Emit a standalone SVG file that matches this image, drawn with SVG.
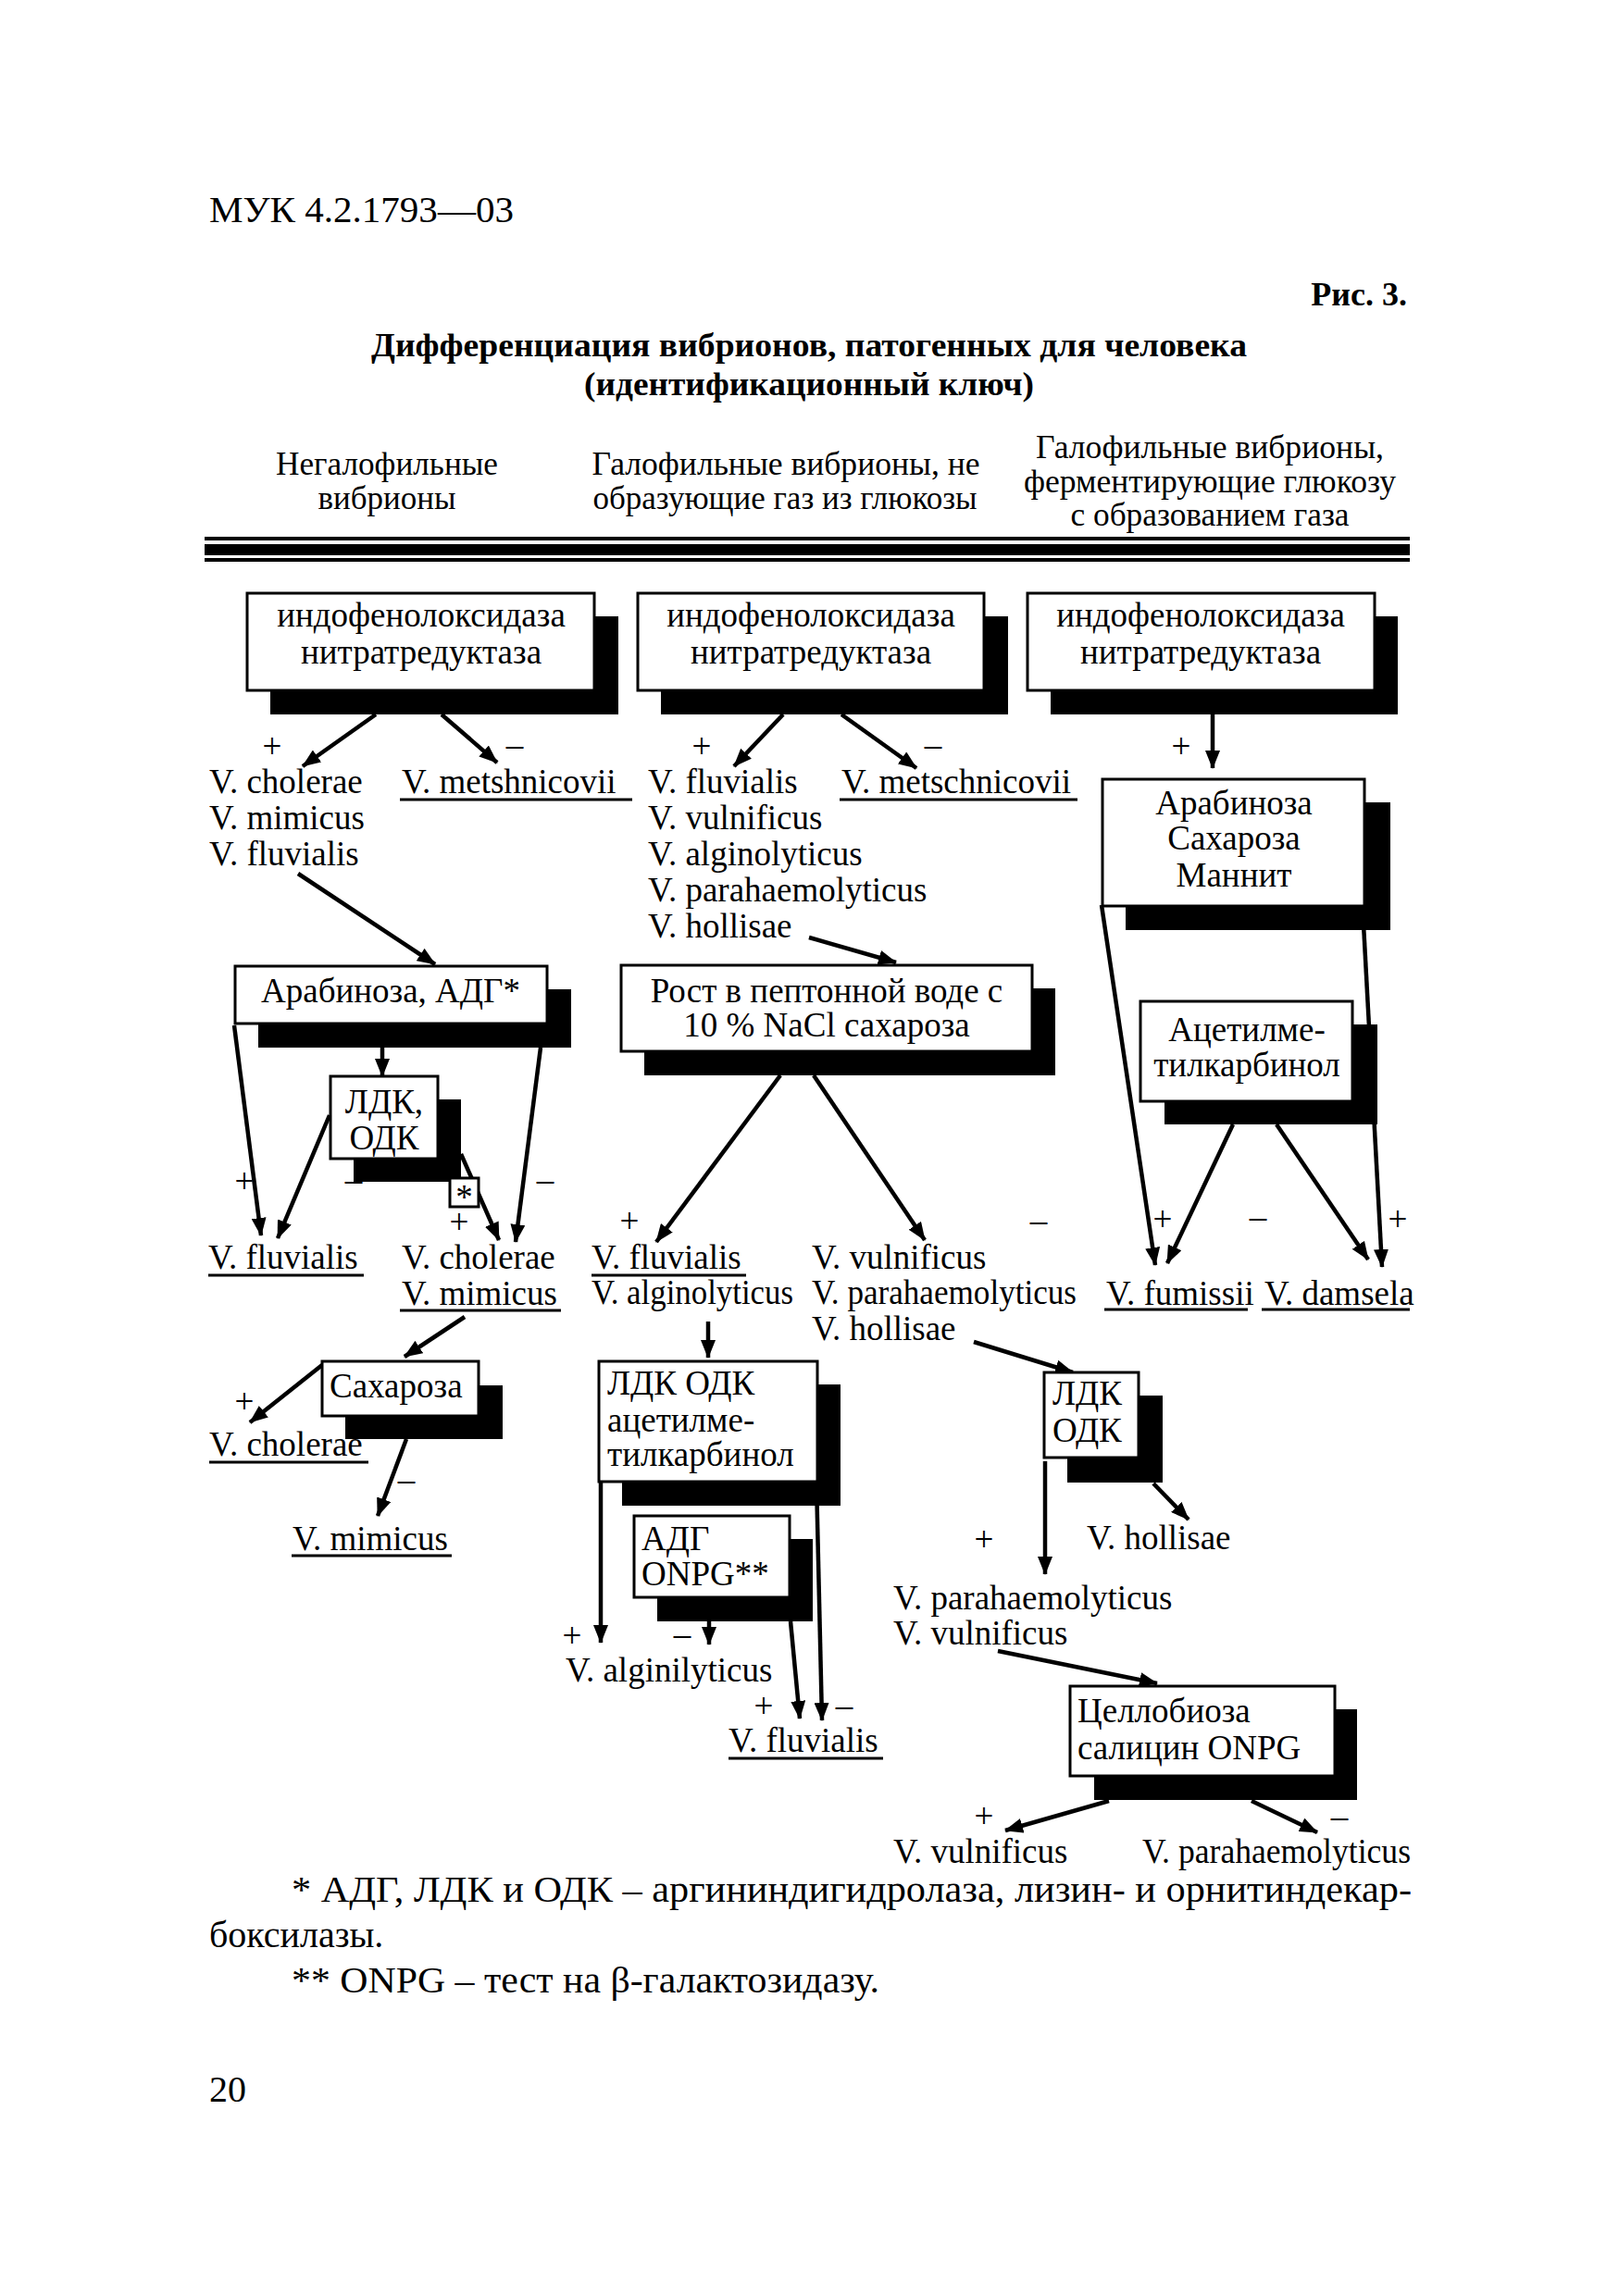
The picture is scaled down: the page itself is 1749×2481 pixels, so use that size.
<svg xmlns="http://www.w3.org/2000/svg" width="1749" height="2481" viewBox="0 0 1749 2481">
<style>
text{font-family:"Liberation Serif","Times New Roman",serif;font-size:37px;fill:#000}
.h{font-size:35px;text-anchor:middle}
.b{font-weight:bold;font-size:36px}
.c{text-anchor:middle}
.fn{font-size:40px}
.box{fill:#fff;stroke:#000;stroke-width:3}
.sh{fill:#000}
.ln{stroke:#000;stroke-width:4.5;fill:none}
.ar{stroke:#000;stroke-width:4.5;fill:none;marker-end:url(#ah)}
.ul{stroke:#000;stroke-width:3}
</style>
<defs>
<marker id="ah" viewBox="0 0 20 16" refX="19" refY="8" markerWidth="20" markerHeight="16" markerUnits="userSpaceOnUse" orient="auto"><path d="M0,0 L20,8 L0,16 z" fill="#000"/></marker>
</defs>
<rect width="1749" height="2481" fill="#fff"/>

<g id="header">
<text x="226" y="240" style="font-size:40px" textLength="329" lengthAdjust="spacingAndGlyphs">МУК 4.2.1793—03</text>
<text x="1520" y="330" class="b" text-anchor="end">Рис. 3.</text>
<text x="874" y="385" class="b" text-anchor="middle" textLength="946" lengthAdjust="spacingAndGlyphs">Дифференциация вибрионов, патогенных для человека</text>
<text x="874" y="427" class="b" text-anchor="middle" textLength="486" lengthAdjust="spacingAndGlyphs">(идентификационный ключ)</text>
<text x="418" y="513" class="h" textLength="240" lengthAdjust="spacingAndGlyphs">Негалофильные</text>
<text x="418" y="550" class="h" textLength="149" lengthAdjust="spacingAndGlyphs">вибрионы</text>
<text x="849" y="513" class="h" textLength="419" lengthAdjust="spacingAndGlyphs">Галофильные вибрионы, не</text>
<text x="848" y="550" class="h" textLength="415" lengthAdjust="spacingAndGlyphs">образующие газ из глюкозы</text>
<text x="1307" y="495" class="h" textLength="376" lengthAdjust="spacingAndGlyphs">Галофильные вибрионы,</text>
<text x="1307" y="532" class="h" textLength="402" lengthAdjust="spacingAndGlyphs">ферментирующие глюкозу</text>
<text x="1307" y="568" class="h" textLength="301" lengthAdjust="spacingAndGlyphs">с образованием газа</text>
<rect x="221" y="580" width="1302" height="4" fill="#000"/>
<rect x="221" y="588" width="1302" height="12" fill="#000"/>
<rect x="221" y="603" width="1302" height="4" fill="#000"/>
</g>

<g id="connectors">
<line class="ar" x1="406" y1="772" x2="327" y2="828"/>
<line class="ar" x1="477" y1="772" x2="537" y2="824"/>
<line class="ar" x1="846" y1="772" x2="793" y2="828"/>
<line class="ar" x1="909" y1="772" x2="990" y2="830"/>
<line class="ar" x1="1310" y1="772" x2="1310" y2="830"/>
<line class="ar" x1="322" y1="944" x2="470" y2="1042"/>
<line class="ar" x1="413" y1="1132" x2="413" y2="1163"/>
<line class="ar" x1="253" y1="1108" x2="282" y2="1335"/>
<line class="ar" x1="356" y1="1205" x2="300" y2="1338"/>
<line class="ar" x1="584" y1="1132" x2="557" y2="1342"/>
<line class="ar" x1="498" y1="1247" x2="539" y2="1340"/>
<line class="ar" x1="874" y1="1013" x2="968" y2="1040"/>
<line class="ar" x1="843" y1="1162" x2="709" y2="1342"/>
<line class="ar" x1="879" y1="1162" x2="999" y2="1340"/>
<line class="ar" x1="1190" y1="978" x2="1248" y2="1367"/>
<line class="ar" x1="1472" y1="980" x2="1493" y2="1369"/>
<line class="ar" x1="1332" y1="1215" x2="1261" y2="1365"/>
<line class="ar" x1="1379" y1="1215" x2="1478" y2="1361"/>
<line class="ar" x1="502" y1="1423" x2="437" y2="1466"/>
<line class="ar" x1="348" y1="1475" x2="270" y2="1537"/>
<line class="ar" x1="439" y1="1555" x2="408" y2="1638"/>
<line class="ar" x1="765" y1="1428" x2="765" y2="1467"/>
<line class="ar" x1="649" y1="1590" x2="649" y2="1775"/>
<line class="ar" x1="766" y1="1752" x2="766" y2="1777"/>
<line class="ar" x1="854" y1="1752" x2="864" y2="1857"/>
<line class="ar" x1="882" y1="1600" x2="888" y2="1859"/>
<line class="ar" x1="1052" y1="1450" x2="1159" y2="1483"/>
<line class="ar" x1="1129" y1="1579" x2="1129" y2="1701"/>
<line class="ar" x1="1246" y1="1603" x2="1284" y2="1642"/>
<line class="ar" x1="1078" y1="1784" x2="1250" y2="1819"/>
<line class="ar" x1="1198" y1="1946" x2="1086" y2="1978"/>
<line class="ar" x1="1352" y1="1946" x2="1423" y2="1980"/>
</g>

<g id="n-indo1">
<rect class="sh" x="292" y="666" width="376" height="106"/>
<rect class="box" x="267" y="641" width="375" height="105"/>
<text x="455" y="677" class="c">индофенолоксидаза</text>
<text x="455" y="717" class="c">нитратредуктаза</text>
</g>
<g id="n-indo2">
<rect class="sh" x="714" y="666" width="375" height="106"/>
<rect class="box" x="689" y="641" width="374" height="105"/>
<text x="876" y="677" class="c">индофенолоксидаза</text>
<text x="876" y="717" class="c">нитратредуктаза</text>
</g>
<g id="n-indo3">
<rect class="sh" x="1135" y="666" width="375" height="106"/>
<rect class="box" x="1110" y="641" width="375" height="105"/>
<text x="1297" y="677" class="c">индофенолоксидаза</text>
<text x="1297" y="717" class="c">нитратредуктаза</text>
</g>

<g id="n-arab-sach-mann">
<rect class="sh" x="1216" y="867" width="286" height="138"/>
<rect class="box" x="1191" y="842" width="283" height="137"/>
<text x="1333" y="880" class="c">Арабиноза</text>
<text x="1333" y="918" class="c">Сахароза</text>
<text x="1333" y="958" class="c">Маннит</text>
</g>

<g id="n-arab-adg">
<rect class="sh" x="279" y="1069" width="338" height="63"/>
<rect class="box" x="254" y="1044" width="337" height="62"/>
<text x="422" y="1083" class="c">Арабиноза, АДГ*</text>
</g>

<g id="n-ldk-odk1">
<rect class="sh" x="382" y="1188" width="116" height="89"/>
<rect class="box" x="357" y="1163" width="116" height="89"/>
<text x="415" y="1203" class="c">ЛДК,</text>
<text x="415" y="1242" class="c">ОДК</text>
</g>

<g id="n-star">
<rect class="box" x="486" y="1273" width="31" height="31"/>
<text x="501.5" y="1306" class="c">*</text>
</g>

<g id="n-rost">
<rect class="sh" x="696" y="1068" width="444" height="94"/>
<rect class="box" x="671" y="1043" width="444" height="93"/>
<text x="893" y="1083" class="c">Рост в пептонной воде с</text>
<text x="893" y="1120" class="c">10 % NaCl сахароза</text>
</g>

<g id="n-acetyl">
<rect class="sh" x="1258" y="1107" width="230" height="108"/>
<rect class="box" x="1232" y="1082" width="229" height="108"/>
<text x="1347" y="1125" class="c">Ацетилме-</text>
<text x="1347" y="1163" class="c">тилкарбинол</text>
</g>

<g id="n-sach">
<rect class="sh" x="373" y="1497" width="170" height="58"/>
<rect class="box" x="348" y="1471" width="169" height="59"/>
<text x="356" y="1510">Сахароза</text>
</g>

<g id="n-ldk-odk-acet">
<rect class="sh" x="672" y="1496" width="236" height="131"/>
<rect class="box" x="647" y="1471" width="236" height="130"/>
<text x="656" y="1507">ЛДК ОДК</text>
<text x="656" y="1547">ацетилме-</text>
<text x="656" y="1584">тилкарбинол</text>
</g>

<g id="n-adg-onpg">
<rect class="sh" x="710" y="1663" width="168" height="89"/>
<rect class="box" x="685" y="1638" width="168" height="88"/>
<text x="693" y="1675">АДГ</text>
<text x="693" y="1713">ONPG**</text>
</g>

<g id="n-ldk-odk2">
<rect class="sh" x="1153" y="1508" width="103" height="94"/>
<rect class="box" x="1128" y="1483" width="102" height="92"/>
<text x="1137" y="1518">ЛДК</text>
<text x="1137" y="1558">ОДК</text>
</g>

<g id="n-cello">
<rect class="sh" x="1182" y="1847" width="284" height="98"/>
<rect class="box" x="1156" y="1822" width="286" height="97"/>
<text x="1164" y="1861">Целлобиоза</text>
<text x="1164" y="1901">салицин ONPG</text>
</g>

<g id="labels">
<text x="226" y="857">V. cholerae</text>
<text x="226" y="896">V. mimicus</text>
<text x="226" y="935">V. fluvialis</text>
<text x="434" y="857">V. metshnicovii</text>
<line class="ul" x1="432" y1="864" x2="683" y2="864"/>
<text x="700" y="857">V. fluvialis</text>
<text x="700" y="896">V. vulnificus</text>
<text x="700" y="935">V. alginolyticus</text>
<text x="700" y="974">V. parahaemolyticus</text>
<text x="700" y="1013">V. hollisae</text>
<text x="909" y="857">V. metschnicovii</text>
<line class="ul" x1="907" y1="864" x2="1164" y2="864"/>

<text x="225" y="1371">V. fluvialis</text>
<line class="ul" x1="225" y1="1378" x2="393" y2="1378"/>
<text x="434" y="1371">V. cholerae</text>
<text x="434" y="1410">V. mimicus</text>
<line class="ul" x1="432" y1="1416" x2="606" y2="1416"/>
<text x="639" y="1371">V. fluvialis</text>
<line class="ul" x1="639" y1="1378" x2="806" y2="1378"/>
<text x="639" y="1409" textLength="218" lengthAdjust="spacingAndGlyphs">V. alginolyticus</text>
<text x="877" y="1371">V. vulnificus</text>
<text x="877" y="1409" textLength="286" lengthAdjust="spacingAndGlyphs">V. parahaemolyticus</text>
<text x="877" y="1448">V. hollisae</text>
<text x="1195" y="1410">V. fumissii</text>
<line class="ul" x1="1193" y1="1415" x2="1348" y2="1415"/>
<text x="1366" y="1410">V. damsela</text>
<line class="ul" x1="1363" y1="1415" x2="1523" y2="1415"/>

<text x="226" y="1573">V. cholerae</text>
<line class="ul" x1="226" y1="1580" x2="398" y2="1580"/>
<text x="316" y="1675">V. mimicus</text>
<line class="ul" x1="315" y1="1681" x2="488" y2="1681"/>

<text x="611" y="1817">V. alginilyticus</text>
<text x="787" y="1893">V. fluvialis</text>
<line class="ul" x1="787" y1="1900" x2="954" y2="1900"/>

<text x="1174" y="1674">V. hollisae</text>
<text x="965" y="1739">V. parahaemolyticus</text>
<text x="965" y="1777">V. vulnificus</text>
<text x="965" y="2013">V. vulnificus</text>
<text x="1234" y="2013" textLength="290" lengthAdjust="spacingAndGlyphs">V. parahaemolyticus</text>
</g>

<g id="signs">
<text x="294" y="819" class="c">+</text>
<text x="556" y="817" class="c">–</text>
<text x="758" y="819" class="c">+</text>
<text x="1008" y="817" class="c">–</text>
<text x="1276" y="819" class="c">+</text>
<text x="264" y="1289" class="c">+</text>
<text x="382" y="1287" class="c">–</text>
<text x="496" y="1333" class="c">+</text>
<text x="589" y="1287" class="c">–</text>
<text x="680" y="1332" class="c">+</text>
<text x="1122" y="1331" class="c">–</text>
<text x="1256" y="1330" class="c">+</text>
<text x="1359" y="1327" class="c">–</text>
<text x="1510" y="1330" class="c">+</text>
<text x="264" y="1527" class="c">+</text>
<text x="439" y="1611" class="c">–</text>
<text x="618" y="1780" class="c">+</text>
<text x="737" y="1778" class="c">–</text>
<text x="825" y="1856" class="c">+</text>
<text x="912" y="1855" class="c">–</text>
<text x="1063" y="1676" class="c">+</text>
<text x="1063" y="1975" class="c">+</text>
<text x="1447" y="1975" class="c">–</text>
</g>

<g id="footnotes">
<text x="315" y="2055" class="fn" textLength="1210" lengthAdjust="spacingAndGlyphs">* АДГ, ЛДК и ОДК – аргининдигидролаза, лизин- и орнитиндекар-</text>
<text x="226" y="2104" class="fn">боксилазы.</text>
<text x="315" y="2153" class="fn" textLength="635" lengthAdjust="spacingAndGlyphs">** ONPG – тест на β-галактозидазу.</text>
<text x="226" y="2271" class="fn">20</text>
</g>
</svg>
